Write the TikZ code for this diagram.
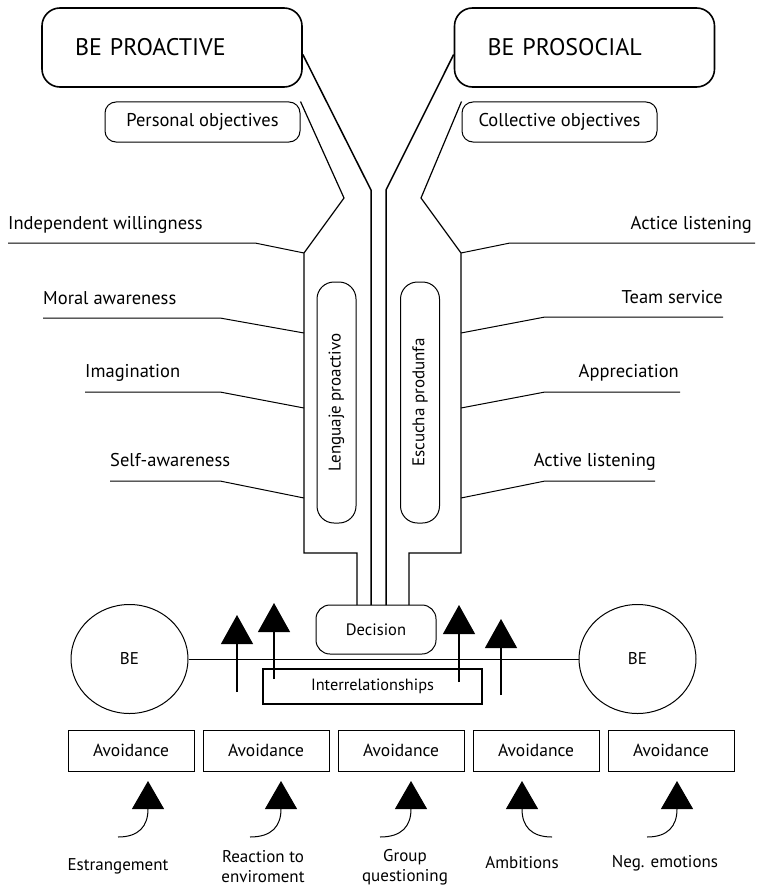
\documentclass[tikz,border=0pt]{standalone}
\usepackage{fontspec}
\setmainfont{PT Sans}
\usetikzlibrary{calc, positioning, arrows.meta, shapes.geometric}

\begin{document}
\begin{tikzpicture}[x=1pt, y=-1pt, font=\fontsize{17}{20}\selectfont,
  titlebox/.style={draw, line width=1.6pt, rounded corners=18pt, minimum height=79pt,
    text width=194pt, align=left, inner xsep=33pt, font=\fontsize{24}{28}\selectfont},
  objbox/.style={draw, line width=1pt, rounded corners=11pt, minimum width=195pt, minimum height=40pt,
    font=\fontsize{18.5}{22}\selectfont},
  barbox/.style={draw, line width=1pt, rounded corners=17pt, rotate=90, minimum width=241pt, minimum height=39pt},
  avoidbox/.style={draw, line width=1pt, minimum width=126pt, minimum height=41pt, font=\fontsize{17.5}{20}\selectfont},
  sidelabel/.style={font=\fontsize{18.5}{22}\selectfont, inner sep=0pt},
  tube/.style={line width=1.5pt},
  sideline/.style={line width=1pt},
  uparrow/.style={line width=1.2pt, -{Triangle[width=32pt,length=29pt]}}]

\useasboundingbox (0,0) rectangle (758,888);

% titles and objectives
\node[titlebox] (proactive) at (172,47.5) {BE PROACTIVE};
\node[titlebox] (prosocial) at (584.5,47.5) {BE PROSOCIAL};
\node[objbox] (personal) at (202.5,122) {Personal objectives};
\node[objbox] (collective) at (559.5,122) {Collective objectives};

% centre pieces
\node[barbox] (lenguaje) at (336.5,402.5) {Lenguaje proactivo};
\node[barbox] (escucha) at (420,402.5) {Escucha produnfa};
\node[draw, line width=1pt, rounded corners=14pt, minimum width=120pt, minimum height=49pt,
  font=\fontsize{16.5}{20}\selectfont] (decision) at (376,629.5) {Decision};
\node[draw, line width=1.2pt, minimum width=219pt, minimum height=35pt,
  font=\fontsize{16.3}{20}\selectfont] (inter) at (372.5,686.5) {Interrelationships};
\node[draw, line width=1pt, ellipse, minimum width=117pt, minimum height=109pt] (beleft) at (129.5,659) {BE};
\node[draw, line width=1pt, ellipse, minimum width=117pt, minimum height=109pt] (beright) at (637.5,659) {BE};

% the tube
\draw[tube] ($(proactive.east)+(0,7)$) -- (371,190) -- (371,605);
\draw[tube] ($(prosocial.west)+(0,7)$) -- (386,190) -- (386,605);
\draw[line width=1.2pt] (personal.north east) -- (344,198) -- (304,253) -- (304,553) -- (357,553) -- (357,605);
\draw[line width=1.2pt] (collective.north west) -- (421,198) -- (461,253) -- (461,553) -- (409,553) -- (409,605);

% left labels
\node[sidelabel, anchor=base west] (willing) at (8,229) {Independent willingness};
\node[sidelabel, anchor=base west] (moral) at (43,304) {Moral awareness};
\node[sidelabel, anchor=base west] (imagin) at (85,377) {Imagination};
\node[sidelabel, anchor=base west] (selfaw) at (110,466) {Self-awareness};
\draw[sideline] (8,243) -- (255,243) -- (304,253);
\draw[sideline] (43,318) -- (220,318) -- (304,333);
\draw[sideline] (85,392) -- (220,392) -- (304,408);
\draw[sideline] (110,481) -- (220,481) -- (304,498);

% right labels
\node[sidelabel, anchor=base east] (actice) at (752,229) {Actice listening};
\node[sidelabel, anchor=base east] (team) at (723,303) {Team service};
\node[sidelabel, anchor=base east] (apprec) at (679,377) {Appreciation};
\node[sidelabel, anchor=base east] (active) at (656,466) {Active listening};
\draw[sideline] (755,243) -- (510,243) -- (461,253);
\draw[sideline] (723,317) -- (545,317) -- (461,333);
\draw[sideline] (680,392) -- (545,392) -- (461,408);
\draw[sideline] (655,481) -- (545,481) -- (461,498);

% link between the two BE
\draw[line width=1pt] (beleft.east) -- (beright.west);
\draw[uparrow] (237,692) -- (237,615);
\draw[uparrow] (274,679) -- (274,603);
\draw[uparrow] (459,682) -- (459,605);
\draw[uparrow] (501,695) -- (501,619);

% avoidance row
\node[avoidbox] (av1) at (131,750.5) {Avoidance};
\node[avoidbox, right=8pt of av1] (av2) {Avoidance};
\node[avoidbox, right=8pt of av2] (av3) {Avoidance};
\node[avoidbox, right=8pt of av3] (av4) {Avoidance};
\node[avoidbox, right=8pt of av4] (av5) {Avoidance};

\foreach \sx/\tx in {118/148, 250/281, 380/411, 647/677}
  \draw[line width=1pt, -{Triangle[width=32pt,length=28pt]}] (\sx,837) .. controls (\tx-9,837) and (\tx,826) .. (\tx,809) -- (\tx,781);
\draw[line width=1pt, -{Triangle[width=32pt,length=28pt]}] (552,837) .. controls (531,837) and (522,826) .. (522,809) -- (522,781);

\node (estr) at (118,866) {Estrangement};
\node[align=center] (react) at (263,867) {Reaction to\\enviroment};
\node[align=center] (group) at (405,867) {Group\\questioning};
\node (ambit) at (522,863) {Ambitions};
\node (negem) at (665,863) {Neg. emotions};

\end{tikzpicture}
\end{document}
